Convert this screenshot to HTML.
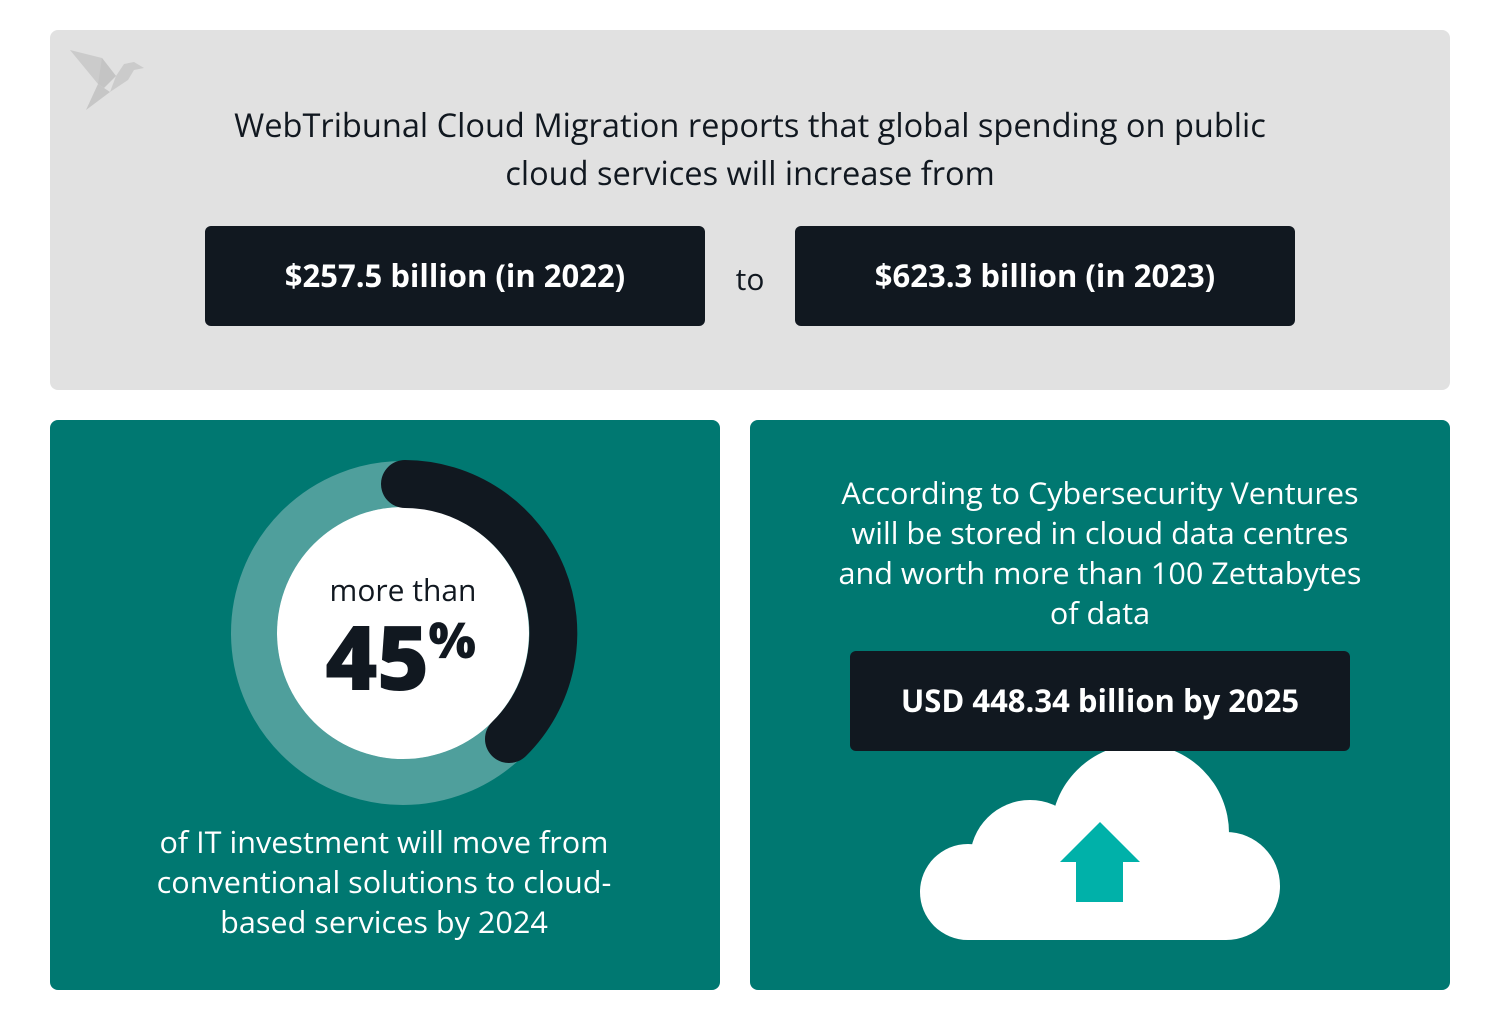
<!DOCTYPE html>
<html><head><meta charset="utf-8"><style>
body{margin:0;width:1500px;height:1015px;background:#fff;font-family:"Open Sans","Liberation Sans","DejaVu Sans",sans-serif;position:relative;overflow:hidden}
.abs{position:absolute}
.top{left:50px;top:30px;width:1400px;height:360px;background:#e1e1e1;border-radius:8px}
.box{background:#111820;color:#fff;border-radius:6px;font-weight:bold;font-size:31px;display:flex;align-items:center;justify-content:center}
.teal{background:#007871;border-radius:8px}
.t{color:#111820;text-align:center}
.w{color:#fff;text-align:center;font-size:30.6px;line-height:40px}
</style></head><body>
<div class="abs top"></div>
<svg class="abs" style="left:68px;top:48px" width="80" height="64" viewBox="0 0 80 64">
<polygon points="2,2 34,10 48,28 30,36" fill="#cbcbcb"/>
<polygon points="34,10 48,28 36,40 30,36" fill="#c4c4c4"/>
<polygon points="48,28 56,16 66,14 76,20 66,22 60,32 42,44" fill="#cbcbcb"/>
<polygon points="30,36 42,44 18,62" fill="#c6c6c6"/>
</svg>
<div class="abs t" style="left:100px;top:101px;width:1300px;font-size:32.6px;line-height:48px">WebTribunal Cloud Migration reports that global spending on public<br>cloud services will increase from</div>
<div class="abs box" style="left:205px;top:226px;width:500px;height:100px">$257.5 billion (in 2022)</div>
<div class="abs t" style="left:720px;top:258px;width:60px;font-size:30px">to</div>
<div class="abs box" style="left:795px;top:226px;width:500px;height:100px">$623.3 billion (in 2023)</div>

<div class="abs teal" style="left:50px;top:420px;width:670px;height:570px"></div>
<div class="abs teal" style="left:750px;top:420px;width:700px;height:570px"></div>

<svg class="abs" style="left:0;top:0" width="1500" height="1015">
<circle cx="403" cy="633" r="149" fill="none" stroke="#4f9f9c" stroke-width="46"/>
<circle cx="403" cy="633" r="126" fill="#fff"/>
<path d="M 405 484 A 149 149 0 0 1 509 739" fill="none" stroke="#111820" stroke-width="48" stroke-linecap="round"/>
<g fill="#fff">
<circle cx="968" cy="892" r="48"/>
<circle cx="1030" cy="860" r="60"/>
<circle cx="1140" cy="833" r="89"/>
<circle cx="1226" cy="886" r="54"/>
<rect x="968" y="870" width="258" height="70"/>
</g>
<polygon points="1100,822 1140,862 1123,862 1123,902 1076,902 1076,862 1060,862" fill="#00b1a9"/>
</svg>
<div class="abs t" style="left:303px;top:569px;width:200px;font-size:30px">more than</div>
<div class="abs t" style="left:300px;top:589px;width:200px;font-size:90px;font-weight:900;line-height:100px;letter-spacing:-1px">45<span style="font-size:50px;vertical-align:32px">%</span></div>
<div class="abs w" style="left:84px;top:821px;width:600px">of IT investment will move from<br>conventional solutions to cloud-<br>based services by 2024</div>
<div class="abs w" style="left:780px;top:472px;width:640px">According to Cybersecurity Ventures<br>will be stored in cloud data centres<br>and worth more than 100 Zettabytes<br>of data</div>
<div class="abs box" style="left:850px;top:651px;width:500px;height:100px">USD 448.34 billion by 2025</div>
</body></html>
